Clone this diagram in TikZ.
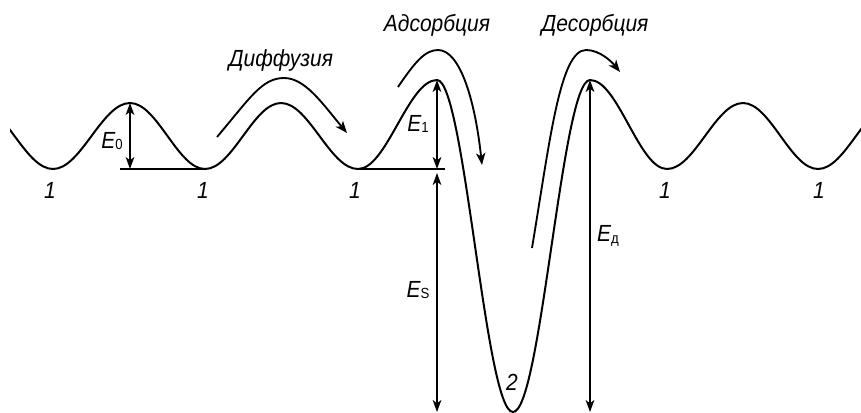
\documentclass[tikz,border=0pt]{standalone}
\usepackage{fontspec}
\setmainfont{Liberation Sans}[FakeStretch=0.9]
\usetikzlibrary{arrows.meta,calc}
\tikzset{
  curve/.style={line width=1.5pt, line join=round},
  move/.style={-{Stealth[length=9pt,width=7pt,inset=2.5pt]}, line width=1.4pt},
  dim/.style={{Stealth[length=9pt,width=6.5pt,inset=2.5pt]}-{Stealth[length=9pt,width=6.5pt,inset=2.5pt]}, line width=1.4pt},
  base/.style={line width=1pt},
  lbl/.style={font=\itshape\fontsize{17.5}{20}\selectfont},
}
\newcommand{\Elab}[1]{E\raisebox{-1pt}{\upshape\fontsize{11}{12}\selectfont #1}}

\begin{document}
\begin{tikzpicture}[x=0.75pt, y=-0.75pt]
  \useasboundingbox (0,0) rectangle (861,412);
  % extrema of the potential
  \coordinate (p0) at (-24,103);
  \coordinate (m1) at (53,169);
  \coordinate (p1) at (130,103);
  \coordinate (m2) at (205,169);
  \coordinate (p2) at (281,103);
  \coordinate (m3) at (358,169);
  \coordinate (pa) at (437,80);
  \coordinate (w)  at (513,412);
  \coordinate (pd) at (590,80);
  \coordinate (m4) at (667,169);
  \coordinate (p3) at (743,103);
  \coordinate (m5) at (818,169);
  \coordinate (p4) at (894,103);
  \begin{scope}
    \clip (10,0) rectangle (861,412);
    \draw[curve] (p0) cos ($(p0)!.5!(m1)$) sin (m1)
      cos ($(m1)!.5!(p1)$) sin (p1) cos ($(p1)!.5!(m2)$) sin (m2)
      cos ($(m2)!.5!(p2)$) sin (p2) cos ($(p2)!.5!(m3)$) sin (m3)
      cos ($(m3)!.5!(pa)$) sin (pa) cos ($(pa)!.5!(w)$) sin (w)
      cos ($(w)!.5!(pd)$) sin (pd) cos ($(pd)!.5!(m4)$) sin (m4)
      cos ($(m4)!.5!(p3)$) sin (p3) cos ($(p3)!.5!(m5)$) sin (m5)
      cos ($(m5)!.5!(p4)$) sin (p4);
  \end{scope}
  % levels
  \coordinate (b0) at (120,169);
  \coordinate (b1) at (445,169);
  \draw[base] (b0) -- (m2);
  \draw[base] (m3) -- (b1);
  \coordinate (e0) at (130,169);
  \coordinate (e1) at (437,169);
  \coordinate (es) at (437,173);
  \coordinate (esb) at (437,412);
  \coordinate (edb) at (590,412);
  \draw[dim] (p1) -- (e0);
  \draw[dim] (pa) -- (e1);
  \draw[dim] (es) -- (esb);
  \draw[dim] (pd) -- (edb);
  \node[lbl] (lE0) at (112,141) {\Elab{0}};
  \node[lbl] (lE1) at (418,124) {\Elab{1}};
  \node[lbl] (lES) at (418,290) {\Elab{S}};
  \node[lbl] (lED) at (608,236) {\Elab{д}};
  % moves
  \coordinate (d0) at (217,137);
  \coordinate (d1) at (347,133);
  \draw[move] (d0) .. controls (250,98) and (262,78) .. (284,78)
    .. controls (305,78) and (322,103) .. (d1);
  \coordinate (a0) at (398,87);
  \coordinate (a1) at (482,165);
  \draw[move] (a0) .. controls (415,62) and (425,50) .. (438,50)
    .. controls (460,50) and (475,100) .. (a1);
  \coordinate (s0) at (532,248);
  \coordinate (s1) at (620,72);
  \draw[move] (s0) .. controls (550,140) and (560,50) .. (586,50)
    .. controls (600,50) and (612,62) .. (s1);
  \node[lbl] (tDif) at (281,60) {Диффузия};
  \node[lbl] (tAds) at (437,25) {Адсорбция};
  \node[lbl] (tDes) at (595,25) {Десорбция};
  % sites
  \foreach \x/\n in {50/1,203/2,355/3,665/4,819/5}
    \node[lbl] (site\n) at (\x,190) {1};
  \node[lbl] (well) at (512,382) {2};
\end{tikzpicture}
\end{document}
